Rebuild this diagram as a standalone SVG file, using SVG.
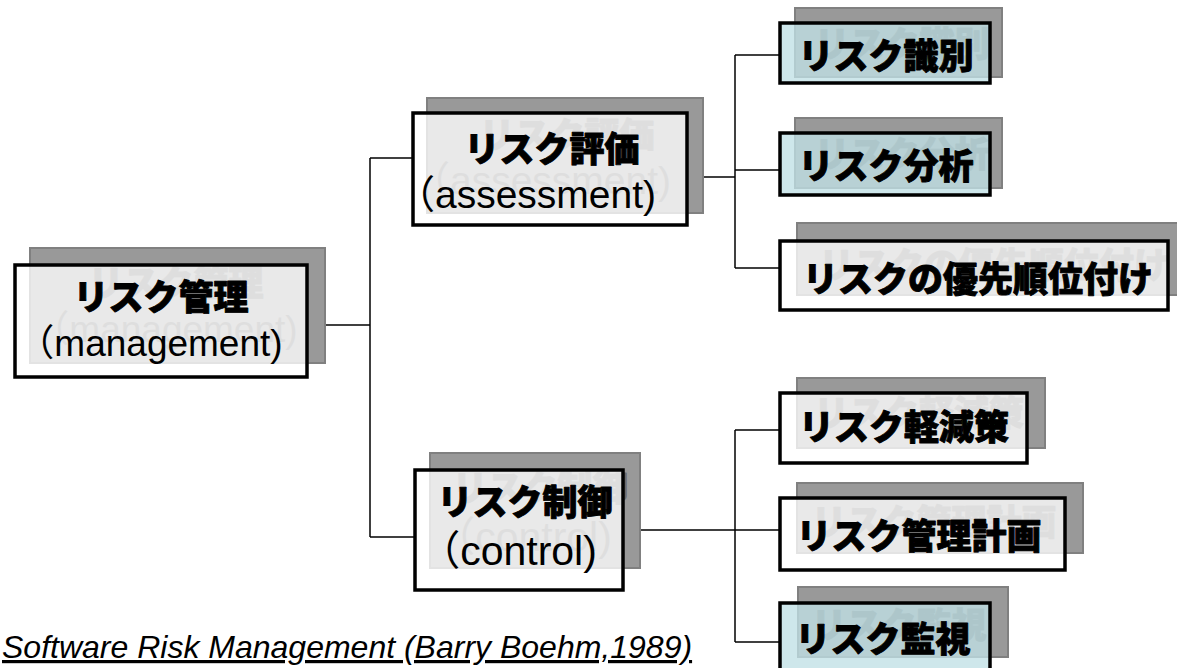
<svg xmlns="http://www.w3.org/2000/svg" width="1177" height="668" viewBox="0 0 1177 668">
<style>
.sh{fill:#999;stroke:#808080;stroke-width:2}
.bx{fill:#fff;fill-opacity:0.78;stroke:#000;stroke-width:3.5}
.bt{fill:#c0e0e5;fill-opacity:0.78;stroke:#000;stroke-width:3.5}
.jp{font-family:"Noto Sans CJK JP",sans-serif;font-weight:900;font-size:35px;text-anchor:middle;fill:#000;stroke:#000;stroke-width:0.9;stroke-linejoin:round}
.en{font-family:"Liberation Sans","Noto Sans CJK JP",sans-serif;font-size:37px;text-anchor:middle;fill:#000}
.g .jp{fill:#6a6a6a;stroke:#6a6a6a}
.g .en{fill:#6a6a6a}
.conn line{stroke:#000;stroke-width:1.5}
.cap{font-family:"Liberation Sans",sans-serif;font-style:italic;font-size:32px;text-decoration:underline;fill:#000}
</style>
<rect width="1177" height="668" fill="#fff"/>
<g id="connectors" class="conn">
<line x1="307" y1="325" x2="370" y2="325"/>
<line x1="370" y1="158" x2="370" y2="537"/>
<line x1="370" y1="158" x2="413" y2="158"/>
<line x1="370" y1="537" x2="415" y2="537"/>
<line x1="687" y1="177" x2="735" y2="177"/>
<line x1="735" y1="55" x2="735" y2="268"/>
<line x1="735" y1="55" x2="780" y2="55"/>
<line x1="735" y1="170" x2="780" y2="170"/>
<line x1="735" y1="268" x2="780" y2="268"/>
<line x1="623" y1="530" x2="735" y2="530"/>
<line x1="735" y1="430" x2="735" y2="642"/>
<line x1="735" y1="430" x2="780" y2="430"/>
<line x1="735" y1="530" x2="780" y2="530"/>
<line x1="735" y1="642" x2="780" y2="642"/>
</g>
<g id="n-management">
<rect class="sh" x="30" y="248" width="295" height="115"/>
<g class="g" transform="translate(15,-14)"><text class="jp" x="161" y="310">リスク管理</text><text class="en" x="150" y="356">（management)</text></g>
<rect class="bx" x="15" y="265" width="292" height="112"/>
<text class="jp" x="161" y="310">リスク管理</text>
<text class="en" x="150" y="356">（management)</text>
</g>
<g id="n-assessment">
<rect class="sh" x="427" y="98" width="276" height="115"/>
<g class="g" transform="translate(15,-14)"><text class="jp" x="552" y="162">リスク評価</text><text class="en" x="526" y="208" style="font-size:39px">（assessment)</text></g>
<rect class="bx" x="413" y="113" width="274" height="112"/>
<text class="jp" x="552" y="162">リスク評価</text>
<text class="en" x="526" y="208" style="font-size:39px">（assessment)</text>
</g>
<g id="n-control">
<rect class="sh" x="430" y="453" width="210" height="115"/>
<g class="g" transform="translate(15,-14)"><text class="jp" x="525" y="515">リスク制御</text><text class="en" x="508" y="565" style="font-size:41px">（control)</text></g>
<rect class="bx" x="415" y="470" width="208" height="120"/>
<text class="jp" x="525" y="515">リスク制御</text>
<text class="en" x="508" y="565" style="font-size:41px">（control)</text>
</g>
<g id="n-identify">
<rect class="sh" x="795" y="8" width="207" height="69"/>
<g class="g" transform="translate(16,-12)"><text class="jp" x="886" y="69">リスク識別</text></g>
<rect class="bt" x="780" y="23" width="210" height="60"/>
<text class="jp" x="886" y="69">リスク識別</text>
</g>
<g id="n-analysis">
<rect class="sh" x="795" y="118" width="207" height="70"/>
<g class="g" transform="translate(16,-12)"><text class="jp" x="886" y="179">リスク分析</text></g>
<rect class="bt" x="780" y="133" width="210" height="62"/>
<text class="jp" x="886" y="179">リスク分析</text>
</g>
<g id="n-priority">
<rect class="sh" x="797" y="223" width="381" height="72"/>
<g class="g" transform="translate(16,-14)"><text class="jp" x="978" y="292">リスクの優先順位付け</text></g>
<rect class="bx" x="780" y="241" width="388" height="69"/>
<text class="jp" x="978" y="292">リスクの優先順位付け</text>
</g>
<g id="n-mitigation">
<rect class="sh" x="797" y="378" width="248" height="70"/>
<g class="g" transform="translate(15,-14)"><text class="jp" x="904" y="440">リスク軽減策</text></g>
<rect class="bx" x="780" y="393" width="247" height="70"/>
<text class="jp" x="904" y="440">リスク軽減策</text>
</g>
<g id="n-plan">
<rect class="sh" x="797" y="483" width="286" height="70"/>
<g class="g" transform="translate(15,-14)"><text class="jp" x="919" y="549">リスク管理計画</text></g>
<rect class="bx" x="780" y="498" width="285" height="72"/>
<text class="jp" x="919" y="549">リスク管理計画</text>
</g>
<g id="n-monitor">
<rect class="sh" x="798" y="587" width="210" height="70"/>
<g class="g" transform="translate(16,-14)"><text class="jp" x="883" y="652">リスク監視</text></g>
<rect class="bt" x="780" y="603" width="210" height="80"/>
<text class="jp" x="883" y="652">リスク監視</text>
</g>
<text id="caption" class="cap" x="2" y="658">Software Risk Management (Barry Boehm,1989)</text>
</svg>
